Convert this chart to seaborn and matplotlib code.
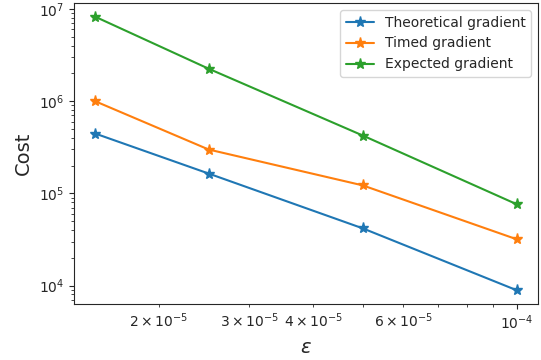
import matplotlib
matplotlib.use("Agg")
import matplotlib.pyplot as plt
import seaborn as sns
import pandas as pd

eps = [1.5e-5, 2.5e-5, 5e-5, 1e-4]
theoretical = [4.46e5, 1.64e5, 4.17e4, 8.87e3]
timed = [1.0e6, 2.99e5, 1.22e5, 3.17e4]
expected = [8.26e6, 2.25e6, 4.24e5, 7.6e4]

series_names = ["Theoretical gradient", "Timed gradient", "Expected gradient"]
series_values = [theoretical, timed, expected]

sns.set_style("ticks")
plt.rcParams["font.family"] = ["DejaVu Sans"]

fig = plt.figure(figsize=(5.41, 3.6), dpi=100)
ax = fig.add_axes([74 / 541, 1 - 304 / 360, (538 - 74) / 541, (304 - 3) / 360])

colors = ["#1f77b4", "#ff7f0e", "#2ca02c"]
for name, vals, c in zip(series_names, series_values, colors):
    df = pd.DataFrame({"eps": eps, "cost": vals})
    sns.lineplot(data=df, x="eps", y="cost", ax=ax, color=c, marker="*",
                 markersize=8, markeredgecolor=c, markeredgewidth=1,
                 label=name, linewidth=1.5)

ax.set_xscale("log")
ax.set_yscale("log")
ax.set_xlabel(r"$\epsilon$", fontsize=14)
ax.set_ylabel("Cost", fontsize=14)
ax.tick_params(labelsize=10)
ax.legend(loc="upper right", fontsize=10)

fig.savefig("out.png", dpi=100)
